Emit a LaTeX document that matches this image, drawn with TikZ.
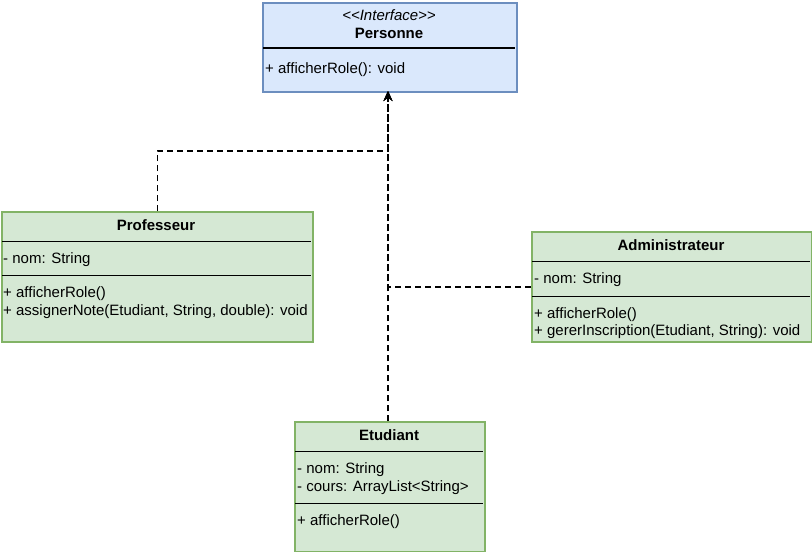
\documentclass[tikz,border=0pt]{standalone}
\usepackage{fontspec}
\setmainfont{Liberation Sans}
\usetikzlibrary{arrows.meta,positioning}
\definecolor{ifacefill}{HTML}{DAE8FC}
\definecolor{ifacedraw}{HTML}{6C8EBF}
\definecolor{classfill}{HTML}{D5E8D4}
\definecolor{classdraw}{HTML}{82B366}
\tikzset{
  umlarr/.style={-{Stealth[length=10pt,width=9pt]}, line width=1.4pt, dash pattern=on 6pt off 4pt},
  umlbox/.style={draw, line width=1.5pt, anchor=north west, inner sep=0pt},
  umlline/.style={line width=0.8pt},
  umltxt/.style={font=\fontsize{15}{18}\selectfont, anchor=west, inner sep=0pt, yshift=-1.5pt},
  umltitle/.style={font=\fontsize{15}{18}\selectfont\bfseries, inner sep=0pt, yshift=-1pt},
}

\begin{document}
\begin{tikzpicture}[x=1pt, y=-1pt]
  \useasboundingbox (0,0) rectangle (812,552);
  % interface
  \node[umlbox, fill=ifacefill, draw=ifacedraw, minimum width=254pt, minimum height=89pt] (pers) at (262,2) {};
  \node[font=\fontsize{15}{18}\selectfont\itshape, inner sep=0pt] (perss) at (389,15) {{<}{<}Interface{>}{>}};
  \node[umltitle] (perst) at (389,32) {Personne};
  \draw[line width=1.2pt] (263,48) -- (515,48);
  \node[umltxt] (persm) at (265,68) {+ afficherRole(): void};
  % classes
  \node[umlbox, fill=classfill, draw=classdraw, minimum width=311pt, minimum height=130pt] (prof) at (1,211) {};
  \node[umltitle] (proft) at (156,224) {Professeur};
  \draw[umlline] (2,241) -- (311,241);
  \node[umltxt] (profa) at (3,258) {- nom: String};
  \draw[umlline] (2,275) -- (311,275);
  \node[umltxt] (profm1) at (3,292) {+ afficherRole()};
  \node[umltxt] (profm2) at (3,310) {+ assignerNote(Etudiant, String, double): void};

  \node[umlbox, fill=classfill, draw=classdraw, minimum width=280pt, minimum height=110pt] (admin) at (531,231) {};
  \node[umltitle] (admint) at (671,244) {Administrateur};
  \draw[umlline] (532,261) -- (810,261);
  \node[umltxt] (admina) at (534,278) {- nom: String};
  \draw[umlline] (532,296) -- (810,296);
  \node[umltxt] (adminm1) at (534,313) {+ afficherRole()};
  \node[umltxt] (adminm2) at (534,330) {+ gererInscription(Etudiant, String): void};

  \node[umlbox, fill=classfill, draw=classdraw, minimum width=190pt, minimum height=130pt] (etud) at (294,421) {};
  \node[umltitle] (etudt) at (389,434) {Etudiant};
  \draw[umlline] (295,451) -- (483,451);
  \node[umltxt] (etuda1) at (297,468) {- nom: String};
  \node[umltxt] (etuda2) at (297,486) {- cours: ArrayList{<}String{>}};
  \draw[umlline] (295,503) -- (483,503);
  \node[umltxt] (etudm) at (297,520) {+ afficherRole()};
  % realisations
  \coordinate (pin) at (388,91);
  \draw[umlarr] (prof.north) |- (388,151) -- (pin);
  \draw[umlarr] (admin.west |- 0,287) -- (388,287) -- (pin);
  \draw[umlarr] (etud.north -| pin) -- (pin);
\end{tikzpicture}
\end{document}
